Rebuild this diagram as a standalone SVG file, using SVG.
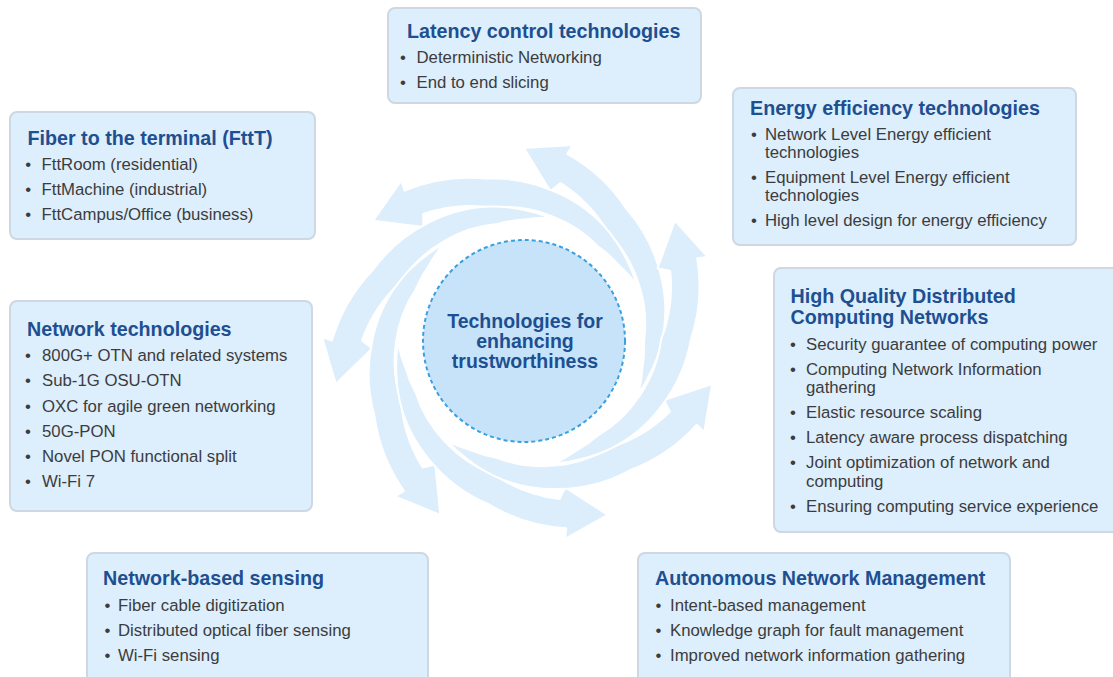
<svg xmlns="http://www.w3.org/2000/svg" xmlns:xlink="http://www.w3.org/1999/xlink" width="1113" height="677" viewBox="0 0 1113 677">
<style>
.box{fill:#ddeefc;stroke:#cdd8e2;stroke-width:2}
.title{font-family:"Liberation Sans",Arial,sans-serif;font-weight:bold;font-size:19.7px;fill:#1d4f91}
.item{font-family:"Liberation Sans",Arial,sans-serif;font-size:16.75px;fill:#3c3c3c}
.center{font-family:"Liberation Sans",Arial,sans-serif;font-weight:bold;font-size:19.5px;fill:#1d4f91;text-anchor:middle}
.arr{fill:#dcedfc;stroke:#ffffff;stroke-width:2;stroke-linejoin:round}
</style>
<defs>
<path id="swirlArrow" class="arr" d="M 43.2,-187.1 A 170 170 0 0 1 102.8,-131.6 A 153 153 0 0 1 136.6,-66.6 A 141 141 0 0 1 138,0 A 134 134 0 0 1 127.6,29.5 A 128 128 0 0 1 114.2,53.2 A 124 124 0 0 0 118.4,27.3 A 121 121 0 0 0 120,0 A 123 123 0 0 0 115,-56.1 A 129 129 0 0 0 84.4,-108 A 145 145 0 0 0 36.5,-157.9 L 26.4,-149.7 L 0,-193 L 48.9,-196 Z"/>
</defs>
<rect width="1113" height="677" fill="#ffffff"/>
<g id="connectors">
<use xlink:href="#swirlArrow" transform="translate(524 341) rotate(0)"/>
<use xlink:href="#swirlArrow" transform="translate(524 341) rotate(-51.43)"/>
<use xlink:href="#swirlArrow" transform="translate(524 341) rotate(-102.86)"/>
<use xlink:href="#swirlArrow" transform="translate(524 341) rotate(-154.29)"/>
<use xlink:href="#swirlArrow" transform="translate(524 341) rotate(-205.71)"/>
<use xlink:href="#swirlArrow" transform="translate(524 341) rotate(-257.14)"/>
<use xlink:href="#swirlArrow" transform="translate(524 341) rotate(-308.57)"/>
</g>
<g id="center-node">
<circle cx="524" cy="341" r="101" fill="#c6e3fa" stroke="#3aa0e0" stroke-width="2" stroke-dasharray="4 3"/>
<text class="center" x="525" y="328">Technologies for</text>
<text class="center" x="525" y="348">enhancing</text>
<text class="center" x="525" y="368">trustworthiness</text>
</g>
<g id="latency">
<rect class="box" x="388" y="8" width="313" height="95" rx="7"/>
<text class="title" x="407" y="38">Latency control technologies</text>
<text class="item" x="400" y="63">•</text><text class="item" x="416.5" y="63">Deterministic Networking</text>
<text class="item" x="400" y="88">•</text><text class="item" x="416.5" y="88">End to end slicing</text>
</g>
<g id="fttt">
<rect class="box" x="10" y="112" width="305" height="127" rx="7"/>
<text class="title" x="27.5" y="145">Fiber to the terminal (FttT)</text>
<text class="item" x="25.3" y="170">•</text><text class="item" x="41.5" y="170">FttRoom (residential)</text>
<text class="item" x="25.3" y="195">•</text><text class="item" x="41.5" y="195">FttMachine (industrial)</text>
<text class="item" x="25.3" y="220">•</text><text class="item" x="41.5" y="220">FttCampus/Office (business)</text>
</g>
<g id="energy">
<rect class="box" x="733" y="88" width="343" height="157" rx="7"/>
<text class="title" x="750" y="115">Energy efficiency technologies</text>
<text class="item" x="751" y="140">•</text><text class="item" x="765" y="140">Network Level Energy efficient</text>
<text class="item" x="765" y="158">technologies</text>
<text class="item" x="751" y="183">•</text><text class="item" x="765" y="183">Equipment Level Energy efficient</text>
<text class="item" x="765" y="201">technologies</text>
<text class="item" x="751" y="226">•</text><text class="item" x="765" y="226">High level design for energy efficiency</text>
</g>
<g id="computing">
<rect class="box" x="774" y="268" width="345" height="264" rx="7"/>
<text class="title" x="790.5" y="303">High Quality Distributed</text>
<text class="title" x="790.5" y="323.5">Computing Networks</text>
<text class="item" x="790" y="350">•</text><text class="item" x="806" y="350">Security guarantee of computing power</text>
<text class="item" x="790" y="375">•</text><text class="item" x="806" y="375">Computing Network Information</text>
<text class="item" x="806" y="393">gathering</text>
<text class="item" x="790" y="418">•</text><text class="item" x="806" y="418">Elastic resource scaling</text>
<text class="item" x="790" y="443">•</text><text class="item" x="806" y="443">Latency aware process dispatching</text>
<text class="item" x="790" y="468">•</text><text class="item" x="806" y="468">Joint optimization of network and</text>
<text class="item" x="806" y="486.5">computing</text>
<text class="item" x="790" y="511.5">•</text><text class="item" x="806" y="511.5">Ensuring computing service experience</text>
</g>
<g id="network">
<rect class="box" x="10" y="301" width="302" height="210" rx="7"/>
<text class="title" x="27" y="336">Network technologies</text>
<text class="item" x="25" y="361">•</text><text class="item" x="42" y="361">800G+ OTN and related systems</text>
<text class="item" x="25" y="386">•</text><text class="item" x="42" y="386">Sub-1G OSU-OTN</text>
<text class="item" x="25" y="411.5">•</text><text class="item" x="42" y="411.5">OXC for agile green networking</text>
<text class="item" x="25" y="437">•</text><text class="item" x="42" y="437">50G-PON</text>
<text class="item" x="25" y="462">•</text><text class="item" x="42" y="462">Novel PON functional split</text>
<text class="item" x="25" y="487">•</text><text class="item" x="42" y="487">Wi-Fi 7</text>
</g>
<g id="sensing">
<rect class="box" x="87" y="553" width="341" height="134" rx="7"/>
<text class="title" x="103" y="585">Network-based sensing</text>
<text class="item" x="104.5" y="611">•</text><text class="item" x="118" y="611">Fiber cable digitization</text>
<text class="item" x="104.5" y="636">•</text><text class="item" x="118" y="636">Distributed optical fiber sensing</text>
<text class="item" x="104.5" y="661">•</text><text class="item" x="118" y="661">Wi-Fi sensing</text>
</g>
<g id="management">
<rect class="box" x="638" y="553" width="372" height="134" rx="7"/>
<text class="title" x="655" y="585">Autonomous Network Management</text>
<text class="item" x="655.5" y="611">•</text><text class="item" x="670" y="611">Intent-based management</text>
<text class="item" x="655.5" y="636">•</text><text class="item" x="670" y="636">Knowledge graph for fault management</text>
<text class="item" x="655.5" y="661">•</text><text class="item" x="670" y="661">Improved network information gathering</text>
</g>
</svg>
